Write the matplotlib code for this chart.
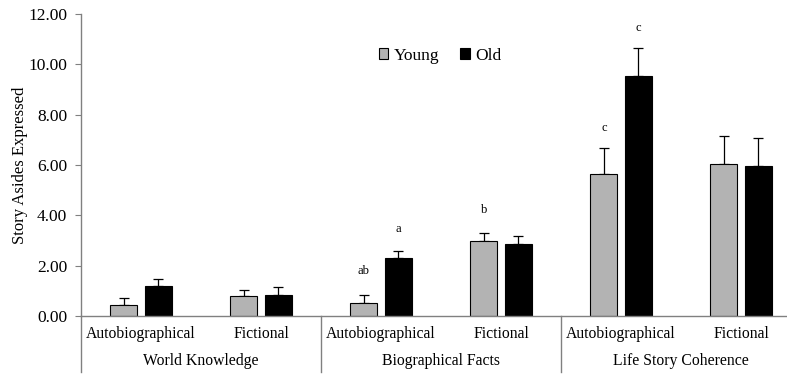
#!/usr/bin/env python3
"""Grouped bar chart of story asides expressed by young and old adults."""
import matplotlib.pyplot as plt
import matplotlib.transforms as mtransforms
import numpy as np

plt.rcParams["font.family"] = ["Liberation Serif", "DejaVu Serif"]

conditions = ["Autobiographical", "Fictional"] * 3
groups = ["World Knowledge", "Biographical Facts", "Life Story Coherence"]
young = [0.45, 0.79, 0.53, 2.99, 5.64, 6.04]
young_err = [0.28, 0.26, 0.30, 0.31, 1.05, 1.10]
old = [1.18, 0.83, 2.30, 2.87, 9.54, 5.97]
old_err = [0.28, 0.31, 0.30, 0.30, 1.10, 1.10]
# significance letters: (category index, series, label, y position)
letters = [(2, "young", "ab", 1.80), (2, "old", "a", 3.46),
           (3, "young", "b", 4.20), (4, "young", "c", 7.47),
           (4, "old", "c", 11.43)]

fig = plt.figure(figsize=(7.87, 3.75), dpi=100)
ax = fig.add_axes([81 / 787, 59 / 375, 720 / 787, 302 / 375])

x = np.arange(len(conditions))
w = 0.225
off = 0.142
grey = "#b3b3b3"
ax.bar(x - off, young, w, color=grey, edgecolor="black", linewidth=0.8,
       label="Young", zorder=2)
ax.bar(x + off, old, w, color="black", edgecolor="black", linewidth=0.8,
       label="Old", zorder=2)
ekw = dict(fmt="none", ecolor="black", elinewidth=0.9, capsize=3.5,
           capthick=0.9, zorder=1)
ax.errorbar(x - off, young, yerr=[np.zeros(6), young_err], **ekw)
ax.errorbar(x + off, old, yerr=[np.zeros(6), old_err], **ekw)

for i, series, txt, yy in letters:
    xx = x[i] - off if series == "young" else x[i] + off
    ax.text(xx, yy, txt, ha="center", va="center", fontsize=9)

ax.set_xlim(-0.5, 5.5)
ax.set_ylim(0, 12)
ax.set_yticks(np.arange(0, 13, 2))
ax.set_yticklabels([f"{v:.2f}" for v in np.arange(0, 13, 2)], fontsize=12.5)
ax.tick_params(axis="y", direction="out", length=4, color="#808080", pad=6)
ax.set_xticks([])
ax.set_ylabel("Story Asides Expressed", fontsize=12)
ax.yaxis.set_label_coords(-0.074, 0.5)

for s in ["top", "right"]:
    ax.spines[s].set_visible(False)
for s in ["left", "bottom"]:
    ax.spines[s].set_color("#808080")
    ax.spines[s].set_linewidth(1.0)

# category and group labels under the axis, with divider lines
trans = mtransforms.blended_transform_factory(ax.transData, ax.transAxes)
for xi, lab in zip(x, conditions):
    ax.text(xi, -0.06, lab, transform=trans, ha="center", va="center",
            fontsize=11.3)
for gi, g in enumerate(groups):
    ax.text(2 * gi + 0.5, -0.15, g, transform=trans, ha="center",
            va="center", fontsize=11.3)
for xd in [-0.5, 1.5, 3.5]:
    ax.plot([xd, xd], [0, -0.185], transform=trans, color="#808080",
            linewidth=1.0, clip_on=False)

ax.legend(loc="upper left", bbox_to_anchor=(0.392, 0.94), ncol=2,
          frameon=False, fontsize=12.5, handlelength=0.55, handleheight=0.55,
          handletextpad=0.3, columnspacing=1.2)

fig.savefig("out.png", dpi=100)
